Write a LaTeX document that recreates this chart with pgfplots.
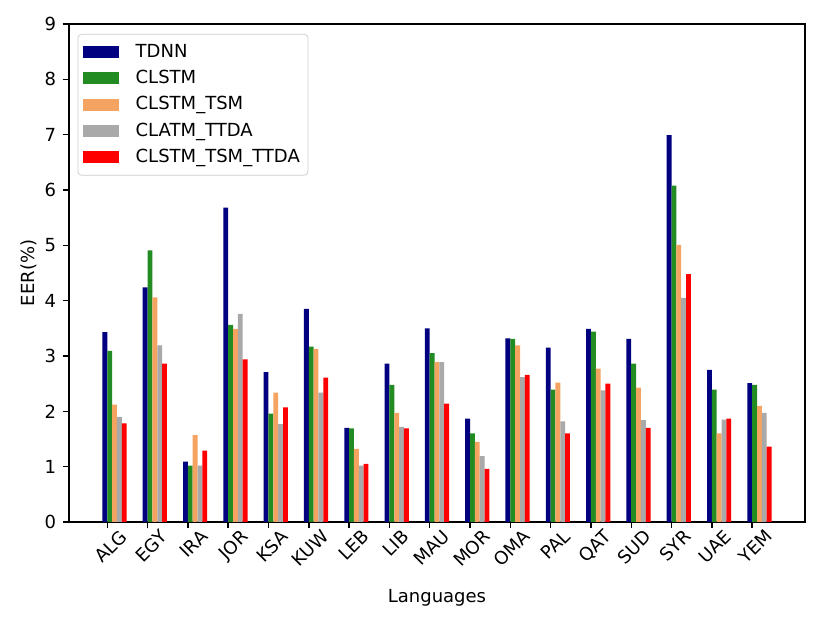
\documentclass[border=0pt]{standalone}
\usepackage{pgfplots}
\pgfplotsset{compat=1.18}
\usepackage{pgfplotstable}
\usepackage{fontspec}
\setmainfont{DejaVu Sans}
\definecolor{cnavy}{RGB}{0,0,128}
\definecolor{cgreen}{RGB}{34,139,34}
\definecolor{csandy}{RGB}{244,164,96}
\definecolor{cgray}{RGB}{169,169,169}
\definecolor{cred}{RGB}{255,0,0}
\definecolor{legframe}{RGB}{204,204,204}

\pgfplotstableread{
x tdnn clstm tsm ttda tsmttda
0 3.43 3.09 2.12 1.90 1.78
1 4.24 4.91 4.06 3.19 2.86
2 1.09 1.02 1.57 1.02 1.29
3 5.68 3.56 3.49 3.76 2.94
4 2.71 1.96 2.34 1.77 2.07
5 3.85 3.17 3.13 2.34 2.61
6 1.70 1.69 1.32 1.02 1.05
7 2.86 2.48 1.97 1.72 1.69
8 3.50 3.05 2.89 2.89 2.14
9 1.87 1.60 1.45 1.19 0.96
10 3.32 3.31 3.19 2.62 2.66
11 3.15 2.39 2.52 1.82 1.60
12 3.49 3.44 2.77 2.38 2.50
13 3.31 2.86 2.43 1.84 1.70
14 6.99 6.08 5.01 4.05 4.48
15 2.75 2.39 1.60 1.85 1.87
16 2.51 2.48 2.10 1.97 1.36
}\data

\begin{document}
\begin{tikzpicture}
\begin{axis}[
  scale only axis,
  width=408.6pt, height=276.5pt,
  xmin=-0.95, xmax=17.31,
  ymin=0, ymax=9,
  ybar, bar width=0.12,
  ytick={0,1,...,9},
  xtick={0,1,...,16},
  xticklabels={ALG,EGY,IRA,JOR,KSA,KUW,LEB,LIB,MAU,MOR,OMA,PAL,QAT,SUD,SYR,UAE,YEM},
  xticklabel style={rotate=45, anchor=north east, inner sep=0pt, xshift=4.6pt, yshift=-4.5pt},
  yticklabel style={inner sep=0pt, xshift=-3.5pt},
  /pgf/number format/assume math mode=true,
  tick align=outside,
  xtick pos=bottom, ytick pos=left,
  major tick length=3.5pt,
  every tick/.style={black, line width=0.8pt},
  axis line style={line width=0.8pt},
  xlabel={Languages},
  ylabel={EER(\%)},
  xlabel style={yshift=-8.5pt},
  ylabel style={yshift=1pt},
  font=\fontsize{10}{12}\selectfont,
  legend cell align=left,
  legend image code/.code={\fill[#1, sharp corners] (0pt,-3.4pt) rectangle (20pt,3.4pt); \path (27.5pt,0pt);},
  legend style={at={(0.0118,0.98)}, anchor=north west, draw=legframe, rounded corners=2pt,
    font=\fontsize{10}{12}\selectfont, row sep=2.7pt, inner xsep=3pt, inner ysep=4pt,
    nodes={inner sep=1.5pt}},
]
\addplot[bar shift=-0.06, fill=cnavy, draw=none] table[x=x,y=tdnn]{\data};
\addlegendentry{TDNN}
\addplot[bar shift=0.06, fill=cgreen, draw=none] table[x=x,y=clstm]{\data};
\addlegendentry{CLSTM}
\addplot[bar shift=0.18, fill=csandy, draw=none] table[x=x,y=tsm]{\data};
\addlegendentry{CLSTM\_TSM}
\addplot[bar shift=0.30, fill=cgray, draw=none] table[x=x,y=ttda]{\data};
\addlegendentry{CLATM\_TTDA}
\addplot[bar shift=0.42, fill=cred, draw=none] table[x=x,y=tsmttda]{\data};
\addlegendentry{CLSTM\_TSM\_TTDA}
\coordinate (ll) at (rel axis cs:0,0);
\coordinate (ur) at (rel axis cs:1,1);
\end{axis}
\path ([shift={(-38.3pt,-55.5pt)}]ll) rectangle ([shift={(13.9pt,13.3pt)}]ur);
\end{tikzpicture}
\end{document}
